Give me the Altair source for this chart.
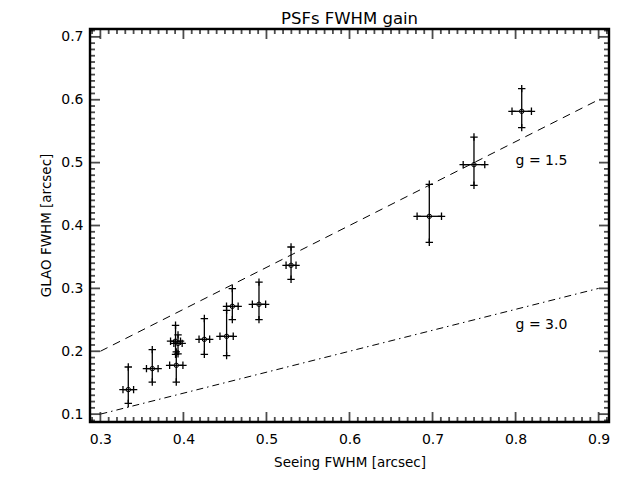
import altair as alt
import pandas as pd

# ---- data ----
seeing = [0.3336, 0.3625, 0.3914, 0.3905, 0.3935, 0.4252, 0.4520, 0.4589, 0.4910, 0.5296, 0.6961, 0.7499, 0.8074]
glao   = [0.1390, 0.1724, 0.1777, 0.2160, 0.2125, 0.2190, 0.2238, 0.2715, 0.2747, 0.3367, 0.4146, 0.4968, 0.5816]
glao_lo = [0.117, 0.151, 0.151, 0.195, 0.196, 0.195, 0.193, 0.2503, 0.2503, 0.3144, 0.3733, 0.4639, 0.5557]
glao_hi = [0.175, 0.2026, 0.199, 0.2413, 0.226, 0.252, 0.265, 0.2997, 0.310, 0.3658, 0.4655, 0.5407, 0.6177]
seeing_err = [0.0064, 0.007, 0.008, 0.006, 0.005, 0.0064, 0.008, 0.007, 0.008, 0.006, 0.0147, 0.013, 0.0117]

g15_x = [0.3, 0.9]
g15_y = [0.2, 0.6]
g30_x = [0.3, 0.9]
g30_y = [0.1, 0.3]

label_text = ["g = 1.5", "g = 3.0"]
label_x = [0.8, 0.8]
label_y = [0.503, 0.241]

x_major = [0.3, 0.4, 0.5, 0.6, 0.7, 0.8, 0.9]
y_major = [0.1, 0.2, 0.3, 0.4, 0.5, 0.6, 0.7]
x_minor = [v for v in [round(0.29 + 0.01 * i, 2) for i in range(63)] if v not in x_major]
y_minor = [v for v in [round(0.09 + 0.01 * i, 2) for i in range(63)] if v not in y_major]

XMIN, XMAX = 0.2875, 0.9125
YMIN, YMAX = 0.0875, 0.7125

FONT = "DejaVu Sans"

pts = pd.DataFrame({
    "x": seeing, "y": glao, "lo": glao_lo, "hi": glao_hi,
    "xlo": [a - e for a, e in zip(seeing, seeing_err)],
    "xhi": [a + e for a, e in zip(seeing, seeing_err)],
})
ends = pd.DataFrame({
    "x": list(pts["x"]) * 2 + list(pts["xlo"]) + list(pts["xhi"]),
    "y": list(pts["lo"]) + list(pts["hi"]) + list(pts["y"]) * 2,
})
g15 = pd.DataFrame({"x": g15_x, "y": g15_y})
g30 = pd.DataFrame({"x": g30_x, "y": g30_y})
labels = pd.DataFrame({"t": label_text, "x": label_x, "y": label_y})

xs = alt.Scale(domain=[XMIN, XMAX], nice=False, zero=False)
ys = alt.Scale(domain=[YMIN, YMAX], nice=False, zero=False)

xaxis = alt.Axis(values=x_major, format=".1f", grid=False, ticks=False, tickSize=0, domain=False,
                 labelFont=FONT, labelFontSize=14, labelColor="black", labelPadding=10,
                 title="Seeing FWHM [arcsec]", titleFont=FONT, titleFontSize=13.5,
                 titleFontWeight="normal", titleColor="black", titleBaseline="alphabetic", titleY=44)
yaxis = alt.Axis(values=y_major, format=".1f", grid=False, ticks=False, tickSize=0, domain=False,
                 labelFont=FONT, labelFontSize=14, labelColor="black", labelPadding=7,
                 title="GLAO FWHM [arcsec]", titleFont=FONT, titleFontSize=13.5,
                 titleFontWeight="normal", titleColor="black", titleAngle=270,
                 titleBaseline="alphabetic", titleX=-40, titleY=196, titleAlign="center")

X = lambda f="x": alt.X(f"{f}:Q", scale=xs, axis=xaxis)
Y = lambda f="y": alt.Y(f"{f}:Q", scale=ys, axis=yaxis)

TW = 1.8


def xticks(vals, size):
    d = pd.DataFrame({"v": vals})
    bot = alt.Chart(d).mark_tick(size=size, thickness=TW, orient="vertical", clip=True, color="black").encode(
        x=alt.X("v:Q", scale=xs, axis=xaxis), y=alt.datum(YMIN, scale=ys))
    top = alt.Chart(d).mark_tick(size=size, thickness=TW, orient="vertical", clip=True, color="black").encode(
        x=alt.X("v:Q", scale=xs, axis=xaxis), y=alt.datum(YMAX, scale=ys))
    return [bot, top]


def yticks(vals, size):
    d = pd.DataFrame({"v": vals})
    lef = alt.Chart(d).mark_tick(size=size, thickness=TW, orient="horizontal", clip=True, color="black").encode(
        y=alt.Y("v:Q", scale=ys, axis=yaxis), x=alt.datum(XMIN, scale=xs))
    rig = alt.Chart(d).mark_tick(size=size, thickness=TW, orient="horizontal", clip=True, color="black").encode(
        y=alt.Y("v:Q", scale=ys, axis=yaxis), x=alt.datum(XMAX, scale=xs))
    return [lef, rig]


tick_layers = xticks(x_major, 20) + xticks(x_minor, 10) + yticks(y_major, 20) + yticks(y_minor, 10)

frame = alt.Chart(pd.DataFrame({"a": [0]})).mark_rect(fill=None, stroke="black", strokeWidth=2.4).encode(
    x=alt.datum(XMIN, scale=xs), x2=alt.datum(XMAX), y=alt.datum(YMIN, scale=ys), y2=alt.datum(YMAX))

line15 = alt.Chart(g15).mark_line(color="black", strokeWidth=1, strokeDash=[8, 6]).encode(x=X(), y=Y())
line30 = alt.Chart(g30).mark_line(color="black", strokeWidth=1, strokeDash=[7, 4, 1.5, 4]).encode(x=X(), y=Y())

vbars = alt.Chart(pts).mark_rule(color="black", strokeWidth=1.3).encode(x=X(), y=Y("lo"), y2="hi:Q")
hbars = alt.Chart(pts).mark_rule(color="black", strokeWidth=1.3).encode(x=X("xlo"), x2="xhi:Q", y=Y())
plus = alt.Chart(ends).mark_point(shape="M-1,0H1M0,-1V1", size=55, color="black", strokeWidth=1.3,
                                   filled=False, opacity=1).encode(x=X(), y=Y())
circ = alt.Chart(pts).mark_point(shape="circle", size=20, color="black", strokeWidth=1.0,
                                  filled=False, opacity=1).encode(x=X(), y=Y())
txt = alt.Chart(labels).mark_text(font=FONT, fontSize=14, align="left", baseline="middle", color="black").encode(
    x=X(), y=Y(), text="t:N")

chart = alt.layer(*tick_layers, frame, line15, line30, vbars, hbars, plus, circ, txt).properties(
    width=519, height=393,
    autosize=alt.AutoSizeParams(type="none"),
    padding={"left": 82, "top": 21, "right": 15, "bottom": 50},
    title=alt.TitleParams("PSFs FWHM gain", font=FONT, fontSize=16.5, fontWeight="normal", color="black",
                          anchor="middle", frame="group", baseline="alphabetic", offset=-13),
).configure_view(stroke=None).configure(background="white")

chart.save("out.html", embed_options={"renderer": "svg", "actions": False})
